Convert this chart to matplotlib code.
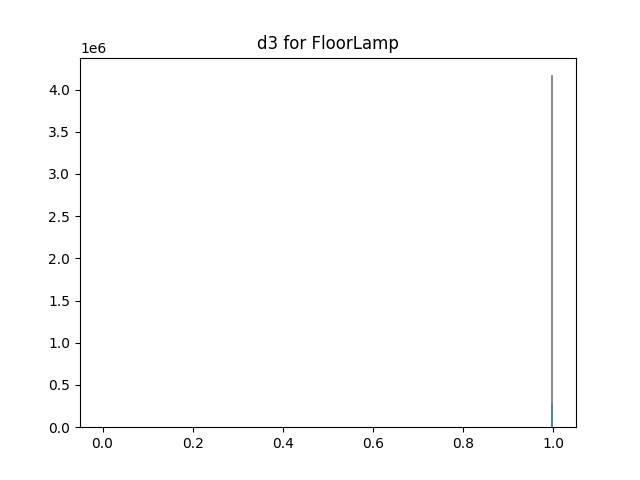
import matplotlib.pyplot as plt
import numpy as np

bins = np.linspace(0, 1, 201)
centers = (bins[:-1] + bins[1:]) / 2

# counts per bin
gray_counts = np.zeros(200); gray_counts[-1] = 4.17e6
blue_counts = np.zeros(200); blue_counts[-1] = 2.8e5
red_counts = np.full(200, 6000.0)

fig, ax = plt.subplots(figsize=(6.4, 4.8), dpi=100)
ax.hist(centers, bins=bins, weights=gray_counts, color='gray', alpha=0.9)
ax.hist(centers, bins=bins, weights=blue_counts, color='tab:blue', alpha=0.5)
ax.hist(centers, bins=bins, weights=red_counts, color='darkred', alpha=0.6)
ax.set_title('d3 for FloorLamp')
plt.savefig('out.png')
